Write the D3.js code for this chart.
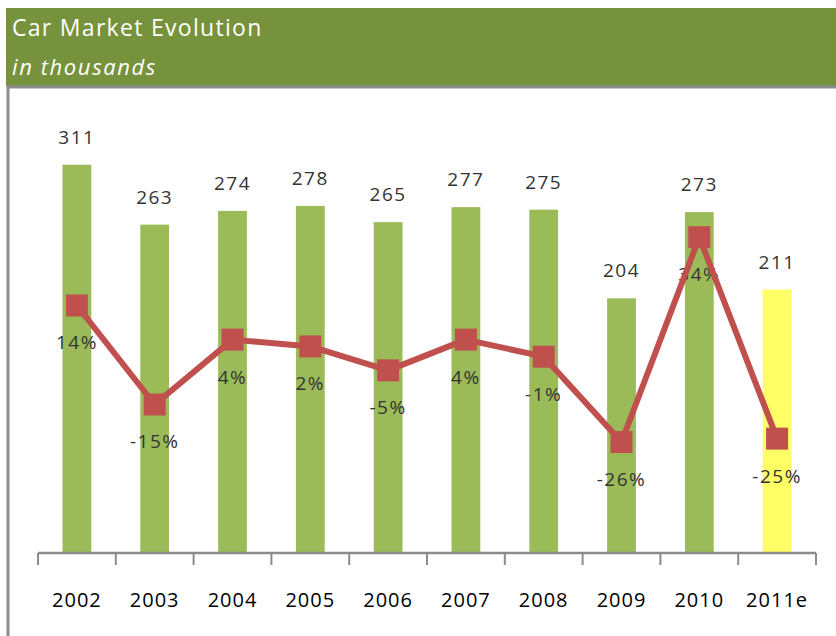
<!DOCTYPE html>
<html>
<head>
<meta charset="utf-8">
<script src="https://cdn.jsdelivr.net/npm/d3@7"></script>
<style>
  body { margin: 0; background: #fff; }
  svg { display: block; font-family: "Open Sans", sans-serif; }
</style>
</head>
<body>
<div id="chart"></div>
<script>
// data
var years = ["2002", "2003", "2004", "2005", "2006", "2007", "2008", "2009", "2010", "2011e"];
var sales = [311, 263, 274, 278, 265, 277, 275, 204, 273, 211];
var growth = [14, -15, 4, 2, -5, 4, -1, -26, 34, -25];
var estimated = ["2011e"];

var W = 836, H = 636;
var svg = d3.select("#chart").append("svg").attr("width", W).attr("height", H);

// header band
svg.append("rect").attr("x", 6).attr("y", 8).attr("width", W - 6).attr("height", 78).attr("fill", "#76923C");
svg.append("text").attr("x", 12).attr("y", 36).attr("fill", "#fff")
  .style("font-size", "23px").style("letter-spacing", "1.3px").text("Car Market Evolution");
svg.append("text").attr("x", 12).attr("y", 75).attr("fill", "#fff")
  .style("font-size", "22px").style("font-style", "italic").style("letter-spacing", "1.6px")
  .text("in thousands");

// frame
svg.append("path").attr("d", "M8,636 V87 H836").attr("fill", "none")
  .attr("stroke", "#8c8c8c").attr("stroke-width", 3);

// scales
var x = d3.scaleBand().domain(years).range([38, 816]);
var y = d3.scaleLinear().domain([0, 350]).range([553, 116]);
var y2 = d3.scaleLinear().domain([-58.5, 69.5]).range([553, 116]);
var barW = x.bandwidth() * 0.37;
var cx = function(d) { return x(d) + x.bandwidth() / 2; };

// bars
svg.selectAll(".bar").data(years).enter().append("rect")
  .attr("x", function(d) { return cx(d) - barW / 2; })
  .attr("y", function(d, i) { return y(sales[i]); })
  .attr("width", barW)
  .attr("height", function(d, i) { return y(0) - y(sales[i]); })
  .attr("fill", function(d) { return estimated.indexOf(d) >= 0 ? "#FFFF66" : "#9BBB59"; });

// bar values
svg.selectAll(".val").data(years).enter().append("text")
  .attr("x", cx)
  .attr("y", function(d, i) { return y(sales[i]) - 21; })
  .attr("text-anchor", "middle")
  .attr("fill", "#333")
  .style("font-size", "19px").style("letter-spacing", "1.5px")
  .text(function(d, i) { return sales[i]; });

// growth labels (under the line)
svg.selectAll(".pct").data(years).enter().append("text")
  .attr("x", cx)
  .attr("y", function(d, i) { return y2(growth[i]) + 44; })
  .attr("text-anchor", "middle")
  .attr("fill", "#333")
  .style("font-size", "19px").style("letter-spacing", "1.5px")
  .text(function(d, i) { return growth[i] + "%"; });

// growth line
var line = d3.line().x(function(d) { return cx(d); })
  .y(function(d, i) { return y2(growth[i]); });
svg.append("path").datum(years).attr("d", line)
  .attr("fill", "none").attr("stroke", "#C0504D").attr("stroke-width", 6)
  .attr("stroke-linejoin", "round");
svg.selectAll(".mk").data(years).enter().append("rect")
  .attr("x", function(d) { return cx(d) - 11; })
  .attr("y", function(d, i) { return y2(growth[i]) - 11; })
  .attr("width", 22).attr("height", 22)
  .attr("fill", "#C0504D");

// axis
var ax = svg.append("g");
ax.append("line").attr("x1", x.range()[0]).attr("x2", x.range()[1])
  .attr("y1", y(0)).attr("y2", y(0)).attr("stroke", "#8c8c8c").attr("stroke-width", 2.5);
var bounds = years.map(function(d) { return x(d); }).concat([x.range()[1]]);
ax.selectAll(".tk").data(bounds).enter().append("line")
  .attr("x1", function(d) { return d; }).attr("x2", function(d) { return d; })
  .attr("y1", y(0)).attr("y2", y(0) + 12)
  .attr("stroke", "#8c8c8c").attr("stroke-width", 2);
ax.selectAll(".lbl").data(years).enter().append("text")
  .attr("x", cx).attr("y", 607)
  .attr("text-anchor", "middle").attr("fill", "#000")
  .style("font-size", "20px").style("letter-spacing", "1px")
  .text(function(d) { return d; });
</script>
</body>
</html>
